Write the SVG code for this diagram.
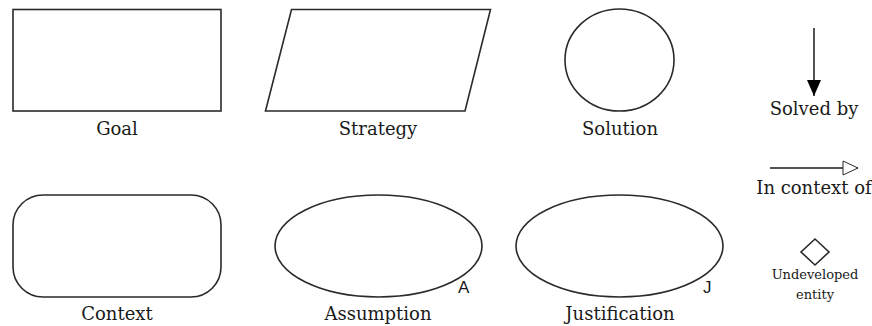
<svg xmlns="http://www.w3.org/2000/svg" width="872" height="326" viewBox="0 0 872 326">
<style>
.shape{fill:#fff;stroke:#2a2a2a;stroke-width:1.6}
.lbl{font-family:'DejaVu Serif',serif;font-size:18px;fill:#1a1a1a;text-anchor:middle}
.small{font-family:'DejaVu Serif',serif;font-size:13px;fill:#1a1a1a;text-anchor:middle}
.tag{font-family:'Liberation Sans',Arial,sans-serif;font-size:17px;fill:#1a1a1a}
.conn{stroke:#1a1a1a;stroke-width:1.5;fill:none}
</style>
<defs>
<marker id="solid" viewBox="0 0 16 14" refX="16" refY="7" markerWidth="16" markerHeight="14" markerUnits="userSpaceOnUse" orient="auto">
<path d="M0,0 L16,7 L0,14 Z" fill="#000"/>
</marker>
<marker id="hollow" viewBox="0 0 17 16" refX="16" refY="8" markerWidth="17" markerHeight="16" markerUnits="userSpaceOnUse" orient="auto">
<path d="M1,1 L16,8 L1,15 Z" fill="#fff" stroke="#2a2a2a" stroke-width="1"/>
</marker>
</defs>
<rect width="872" height="326" fill="#fff"/>
<g id="goal">
<rect class="shape" x="13" y="9.5" width="208" height="101.5"/>
<text class="lbl" x="117" y="135">Goal</text>
</g>
<g id="strategy">
<polygon class="shape" points="291.5,9.5 490.5,9.5 465,111 265.5,111"/>
<text class="lbl" x="378" y="135">Strategy</text>
</g>
<g id="solution">
<ellipse class="shape" cx="619.5" cy="60" rx="54.5" ry="51"/>
<text class="lbl" x="620" y="135">Solution</text>
</g>
<g id="context">
<rect class="shape" x="13" y="195" width="208" height="102" rx="30" ry="30"/>
<text class="lbl" x="117" y="320">Context</text>
</g>
<g id="assumption">
<ellipse class="shape" cx="378.5" cy="246" rx="103.5" ry="51"/>
<text class="tag" x="458" y="293">A</text>
<text class="lbl" x="378" y="320">Assumption</text>
</g>
<g id="justification">
<ellipse class="shape" cx="619.5" cy="246" rx="103.5" ry="51"/>
<text class="tag" x="703" y="293">J</text>
<text class="lbl" x="620" y="320">Justification</text>
</g>
<g id="connectors">
<line class="conn" x1="814" y1="28" x2="814" y2="96" marker-end="url(#solid)"/>
<line class="conn" x1="770" y1="168" x2="858" y2="168" marker-end="url(#hollow)"/>
</g>
<g id="solved-by-label">
<text class="lbl" x="814" y="115">Solved by</text>
</g>
<g id="in-context-label">
<text class="lbl" x="814" y="194">In context of</text>
</g>
<g id="undeveloped">
<polygon class="shape" points="815,239 829,252 815,265 801,252"/>
<text class="small" x="815" y="279">Undeveloped</text>
<text class="small" x="815" y="299">entity</text>
</g>
</svg>
